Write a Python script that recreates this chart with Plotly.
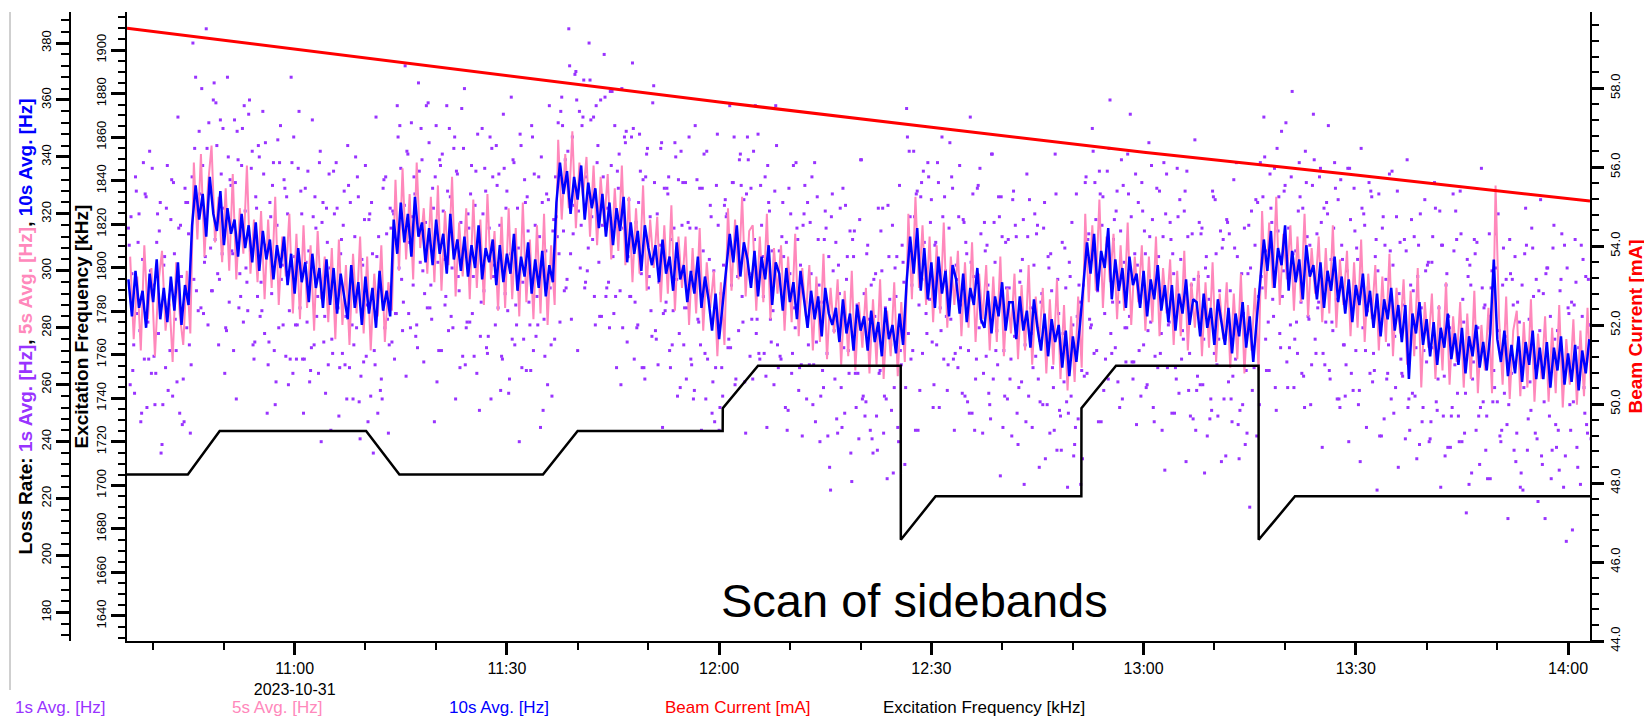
import pandas as pd
import plotly.graph_objects as go

# ---------------- data ----------------
DAY = "2023-10-31 "

# 10 s average loss rate [Hz], one value every 30 s starting 10:36:30
loss_10s = [
    297, 284, 300, 287, 293, 280, 299, 289, 304, 283, 294, 282, 298, 286, 303, 281, 295, 288,
    316, 330, 318, 327, 312, 333, 320, 314, 328,
    309, 322, 313, 318, 305, 320, 308, 316, 303, 317,
    300, 314, 304, 311, 297, 309, 301, 312, 295, 306,
    292, 308, 296, 303, 289, 306, 294, 301, 287, 304,
    288, 301, 285, 299, 291, 283, 302, 287, 296, 281,
    298, 285, 294, 280, 300, 286, 293, 284,
    318, 306, 324, 310, 320, 305, 326, 312, 317, 303,
    315, 302, 318, 306, 313, 299, 320, 304, 311, 300,
    312, 298, 309, 301, 316, 297, 308, 303, 311, 295,
    309, 296, 306, 299, 313, 293, 305, 298, 310, 292,
    304, 294, 307, 291, 302, 296,
    324, 338, 327, 335, 320, 333, 325, 337,
    318, 331, 322, 329, 315, 327,
    312, 324, 309, 322, 314, 326,
    303, 317, 306, 314, 300, 316, 308, 302,
    309, 296, 311, 299, 305, 293, 310, 297,
    302, 289, 300, 292, 305, 287, 298, 290,
    279, 292, 276, 288,
    300, 313, 303, 316, 298, 310, 304,
    294, 307, 291, 305, 297, 309, 288, 303,
    299, 286, 301, 289, 296, 283, 300, 290,
    280, 293, 283, 291, 277, 294, 285, 281,
    287, 275, 290, 278, 285, 272, 288, 279,
    284, 272, 286, 275, 282, 270, 287, 276, 281, 271, 285, 274,
    296, 312, 299, 315, 293, 308,
    290, 303, 287, 305, 292, 300, 284, 302,
    297, 285, 299, 282, 294, 288, 301, 283,
    280, 293, 278, 291, 284, 296, 279, 289,
    289, 276, 291, 279, 286, 273, 290, 280,
    272, 285, 270, 283, 275, 281,
    266, 279, 263, 277, 268, 281,
    296, 310, 299, 313, 293, 307, 301, 315,
    290, 304, 293, 301, 287, 305, 295, 299,
    287, 300, 284, 297, 290, 302, 286, 295,
    282, 295, 279, 292, 285, 297, 281, 290,
    289, 277, 292, 280, 287, 274, 290, 282,
    274, 287, 271, 285, 277, 289, 273, 284, 268, 283,
    297, 311, 300, 314, 294, 308, 302, 316,
    293, 307, 296, 304, 290, 309, 298, 302,
    290, 303, 287, 300, 293, 305, 289, 298,
    285, 297, 282, 295, 288, 299, 284, 293,
    280, 292, 277, 290, 283, 294, 279, 288,
    275, 288, 262, 285, 278, 289, 274, 283,
    270, 282, 267, 280, 273, 285, 269, 278,
    267, 280, 264, 277, 270, 281, 266, 275,
    265, 278, 304, 276, 268, 279, 263, 274,
    264, 277, 261, 275, 267, 279, 262, 273,
    262, 275, 259, 273, 265, 277, 260, 271,
    261, 274, 258, 272, 264, 276,
]

# 5 s average loss rate [Hz], one value every 30 s starting 10:36:45
loss_5s = [
    305, 276, 298, 272, 309, 283, 301, 270, 296, 307, 279, 292, 268, 303, 285, 274, 300, 278,
    338, 311, 341, 305, 330, 344, 310, 326, 303,
    329, 300, 334, 297, 322, 306, 337, 299, 318, 296,
    321, 290, 318, 294, 326, 288, 312, 298, 320, 285,
    313, 283, 316, 287, 309, 279, 314, 290, 305, 282,
    308, 276, 311, 281, 302, 274, 306, 285, 312, 278,
    305, 272, 299, 284, 309, 275, 296, 286,
    332, 300, 336, 304, 327, 297, 338, 308, 322, 299,
    326, 296, 330, 293, 321, 302, 333, 291, 317, 298,
    322, 290, 325, 294, 318, 288, 327, 297, 314, 286,
    319, 287, 322, 290, 315, 284, 324, 289, 311, 283,
    316, 285, 320, 281, 309, 288,
    346, 318, 341, 322, 349, 315, 338, 326,
    340, 312, 337, 309, 333, 316,
    334, 304, 329, 307, 337, 302,
    326, 296, 322, 299, 330, 293, 318, 301,
    319, 289, 316, 292, 323, 286, 312, 294,
    312, 281, 308, 285, 315, 279, 303, 287,
    300, 270, 296, 274,
    322, 293, 318, 297, 326, 291, 314,
    316, 286, 312, 289, 320, 283, 308, 292,
    309, 279, 305, 282, 313, 277, 301, 284,
    302, 272, 298, 275, 306, 269, 294, 278,
    297, 267, 293, 270, 300, 265, 289, 273,
    294, 264, 290, 267, 297, 262, 286, 270, 296, 263, 289, 268,
    320, 290, 326, 294, 316, 288,
    312, 282, 309, 285, 317, 280, 305, 288,
    307, 277, 303, 280, 310, 275, 299, 283,
    302, 272, 298, 275, 305, 270, 294, 278,
    299, 269, 295, 272, 302, 267, 291, 275,
    294, 264, 290, 267, 297, 262,
    288, 258, 284, 261, 291, 266,
    320, 289, 316, 293, 325, 287, 312, 296,
    313, 283, 309, 286, 317, 281, 305, 289,
    309, 279, 305, 282, 312, 277, 301, 285,
    304, 274, 300, 277, 307, 272, 296, 280,
    300, 270, 296, 273, 303, 268, 292, 276,
    296, 266, 292, 269, 299, 264, 288, 272, 294, 265,
    321, 290, 317, 294, 326, 288, 313, 297,
    316, 286, 312, 289, 320, 284, 308, 292,
    312, 282, 308, 285, 316, 280, 304, 288,
    307, 277, 303, 280, 311, 275, 299, 283,
    302, 272, 298, 275, 306, 270, 294, 278,
    297, 267, 293, 270, 301, 259, 289, 273,
    292, 262, 288, 265, 296, 260, 284, 268,
    289, 259, 285, 262, 293, 257, 281, 265,
    287, 257, 330, 283, 260, 291, 255, 279,
    286, 256, 282, 259, 290, 254, 278, 262,
    284, 254, 280, 257, 288, 252, 276, 260,
    283, 253, 279, 256, 287, 258,
]

# 1 s average loss rate [Hz], sampled every 15 s starting 10:36:30
loss_1s = [
    315, 260, 299, 274, 333, 285, 320, 247, 304, 269, 326, 282, 342, 264, 295, 253, 310, 278,
    324, 239, 302, 266, 337, 288, 318, 256, 306, 272, 354, 250, 298, 262, 329, 280, 313, 243,
    333, 297, 368, 319, 349, 287, 337, 303, 385, 281, 329, 293, 360, 311, 344, 274, 353, 306,
    322, 280, 368, 289, 330, 306, 353, 255, 339, 299, 337, 282, 321, 296, 355, 307, 342, 269, 326, 291,
    340, 296, 356, 278, 309, 267, 324, 292, 338, 253, 316, 280, 351, 302, 332, 270, 320, 286, 368, 264,
    305, 269, 336, 287, 320, 250, 329, 282, 307, 265, 353, 274, 315, 291, 338, 240, 324, 284, 322, 267,
    301, 276, 335, 287, 322, 249, 306, 271, 328, 284, 344, 266, 297, 255, 312, 280, 326, 241, 304, 268,
    337, 288, 318, 256, 306, 272, 354, 250, 298, 262, 329, 280, 313, 243, 322, 275,
    320, 285, 358, 301, 336, 279, 323, 263, 341, 310, 352, 295, 327, 281, 366, 303, 339, 268, 317, 287,
    345, 295, 329, 247, 351, 303, 339, 272, 321, 288, 358, 279, 326, 301, 343, 255, 334, 293, 317, 270,
    364, 280, 320, 282, 337, 298, 323, 264, 312, 277, 350, 293, 328, 271, 315, 255, 333, 302, 344, 287,
    316, 270, 355, 292, 328, 257, 306, 276, 338, 288, 322, 240, 344, 296, 332, 265, 314, 281, 351, 272,
    316, 291, 333, 245, 324, 283, 307, 260, 358, 274, 314, 276,
    319, 352, 282, 361, 314, 339, 297, 385, 306, 347, 323, 370, 272, 356, 316, 354,
    294, 333, 308, 367, 319, 354, 281, 338, 303, 360, 316, 376,
    291, 322, 280, 337, 305, 351, 266, 329, 293, 364, 315, 345,
    275, 325, 291, 373, 269, 317, 281, 348, 299, 332, 262, 341, 294, 319, 277, 365,
    279, 320, 296, 343, 245, 329, 289, 327, 272, 311, 286, 345, 297, 332, 259, 316,
    274, 331, 287, 347, 269, 300, 258, 315, 283, 329, 244, 307, 271, 342, 293, 323,
    250, 300, 266, 348, 244, 292, 256, 323,
    319, 273, 358, 295, 331, 260, 309, 279, 341, 291, 325, 243, 347, 299,
    329, 262, 311, 278, 348, 269, 316, 291, 333, 245, 324, 283, 307, 260, 358, 274,
    307, 269, 324, 285, 310, 251, 299, 264, 337, 280, 315, 258, 302, 242, 320, 289,
    324, 267, 299, 253, 338, 275, 311, 240, 289, 259, 321, 271, 305, 223, 327, 279,
    310, 243, 292, 259, 329, 250, 297, 272, 314, 226, 305, 264, 288, 241, 339, 255,
    292, 254, 309, 270, 295, 236, 284, 249, 322, 265, 300, 243, 287, 227, 305, 274,
    316, 259, 291, 245, 330, 267, 303, 232,
    357, 278, 319, 295, 342, 244, 328, 288, 326, 271, 310, 285,
    338, 290, 325, 252, 309, 274, 331, 287, 347, 269, 300, 258, 315, 283, 329, 244,
    302, 266, 337, 288, 318, 256, 306, 272, 354, 250, 298, 262, 329, 280, 313, 243,
    317, 270, 295, 253, 341, 262, 303, 279, 326, 228, 312, 272, 310, 255, 294, 269,
    325, 277, 312, 239, 296, 261, 318, 274, 334, 256, 287, 245, 302, 270, 316, 231,
    289, 253, 324, 275, 305, 243, 293, 259, 341, 237, 285, 249,
    310, 261, 294, 224, 303, 256, 281, 239, 327, 248, 289, 265,
    295, 331, 264, 313, 280, 350, 271, 318, 293, 335, 247, 326, 285, 309, 262, 360,
    271, 311, 273, 328, 289, 314, 255, 303, 268, 341, 284, 319, 262, 306, 246, 324,
    289, 331, 274, 306, 260, 345, 282, 318, 247, 296, 266, 328, 278, 312, 230, 334,
    281, 317, 250, 299, 266, 336, 257, 304, 279, 321, 233, 312, 271, 295, 248, 346,
    258, 298, 260, 315, 276, 301, 242, 290, 255, 328, 271, 306, 249, 293, 233, 311,
    276, 318, 261, 293, 247, 332, 269, 305, 234, 283, 253, 315, 265, 299, 217, 321, 273, 309, 242, 291,
    338, 294, 354, 276, 307, 265, 322, 290, 336, 251, 314, 278, 349, 300, 330, 268,
    315, 281, 363, 259, 307, 271, 338, 289, 322, 252, 331, 284, 309, 267, 355, 276,
    313, 289, 336, 238, 322, 282, 320, 265, 304, 279, 338, 290, 325, 252, 309, 274,
    256, 300, 240, 318, 287, 329, 272, 304, 258, 343, 280, 316, 245, 294, 264, 326,
    271, 305, 223, 327, 279, 315, 248, 297, 264, 334, 255, 302, 277, 319, 231, 310,
    264, 288, 241, 339, 255, 295, 257, 312, 273, 298, 239, 287, 252, 325, 268, 303,
    241, 303, 273, 322, 251, 287, 224, 309, 263, 295, 238, 280, 249, 327, 267, 311,
    249, 328, 240, 282, 257, 304, 225, 295, 262, 311, 244, 280, 232, 336, 254, 288,
    249, 284, 227, 300, 265, 313, 254, 279, 240, 295, 257, 297, 213, 311, 264, 288,
    305, 243, 273, 224, 295, 259, 322, 237, 283, 251, 308, 266, 297, 219, 279, 235,
    292, 213, 301, 259, 284, 237, 316, 246, 279, 230, 297, 261, 309, 205, 287, 253,
    289, 254, 311, 238, 273, 225, 284, 259, 298, 243, 281, 241,
]

# more 1 s average samples [Hz], every 30 s starting 10:36:37
loss_1s_more = [
    309, 265, 328, 279, 338, 252, 300, 270, 320, 236, 305, 258, 332, 283, 315, 246, 324, 274,
    380, 293, 327, 285, 343, 308, 366, 299, 334,
    264, 340, 307, 331, 287, 350, 301, 360, 274, 322,
    284, 334, 250, 319, 272, 346, 297, 329, 260, 338,
    281, 356, 269, 303, 261, 319, 284, 342, 275, 310,
    244, 320, 287, 311, 267, 330, 281, 340, 254, 302,
    270, 320, 236, 305, 258, 332, 283, 315,
    269, 347, 297, 372, 285, 319, 277, 335, 300, 358,
    287, 322, 261, 337, 304, 328, 284, 347, 298, 357,
    267, 315, 285, 335, 251, 320, 273, 347, 298, 330,
    258, 336, 286, 361, 274, 308, 266, 324, 289, 347,
    277, 312, 251, 327, 294, 318,
    312, 356, 293, 342, 283, 369, 321, 351,
    296, 380, 311, 358, 284, 333,
    294, 363, 285, 335, 260, 347,
    305, 347, 289, 324, 266, 333, 298, 359,
    276, 309, 285, 329, 266, 315, 256, 342,
    287, 317, 267, 351, 282, 329, 255, 304,
    261, 330, 252, 302,
    320, 273, 347, 298, 330, 261, 339,
    283, 358, 271, 305, 263, 321, 286, 344,
    270, 305, 244, 320, 287, 311, 267, 330,
    274, 333, 247, 295, 265, 315, 231, 300,
    248, 322, 273, 305, 236, 314, 264, 339,
    249, 283, 241, 299, 264, 322, 255, 290, 229, 305, 272, 296,
    347, 269, 319, 244, 331, 297,
    333, 275, 310, 252, 319, 284, 345, 269,
    297, 273, 317, 254, 303, 244, 330, 282,
    307, 257, 341, 272, 319, 245, 294, 262,
    328, 250, 300, 225, 312, 278, 320, 262,
    292, 234, 301, 266, 327, 251,
    278, 254, 298, 235, 284, 225,
    263, 311, 281, 331, 247, 316, 269, 343,
    289, 321, 252, 330, 280, 355, 268, 302,
    256, 314, 279, 337, 270, 305, 244, 320,
    282, 306, 262, 325, 276, 335, 249, 297,
    263, 313, 229, 298, 251, 325, 276, 308,
    235, 313, 263, 338, 251, 285, 243, 301, 266, 324,
    298, 340, 282, 317, 259, 326, 291, 352,
    273, 306, 282, 326, 263, 312, 253, 339,
    287, 317, 267, 351, 282, 329, 255, 304,
    267, 336, 258, 308, 233, 320, 286, 328,
    265, 300, 242, 309, 274, 335, 259, 292,
    263, 307, 244, 293, 234, 320, 272, 302,
    247, 331, 262, 309, 235, 284, 252, 321,
    240, 290, 215, 302, 268, 310, 252, 287,
    227, 294, 259, 320, 244, 277, 253, 297,
    233, 282, 223, 309, 261, 291, 241, 325,
    254, 301, 227, 276, 244, 313, 235, 285,
    209, 296, 262, 304, 246, 281,
]

# 1 s average samples close to the band [Hz], every 30 s starting 10:36:52
loss_1s_near = [
    319, 257, 310, 250, 327, 269, 336, 264, 314, 253, 322, 272, 331, 261, 316, 247, 324, 267,
    343, 286, 364, 305, 352, 293, 359, 297, 350,
    279, 332, 272, 349, 291, 358, 286, 336, 275, 344,
    286, 345, 275, 330, 261, 338, 281, 326, 269, 347,
    281, 328, 269, 335, 273, 326, 264, 317, 257, 334,
    271, 338, 266, 316, 255, 324, 274, 333, 263, 318,
    247, 324, 267, 312, 255, 333, 274, 321,
    285, 351, 289, 342, 280, 333, 273, 350, 292, 359,
    283, 333, 272, 341, 291, 350, 280, 335, 266, 343,
    282, 327, 270, 348, 289, 336, 277, 343, 281, 334,
    269, 322, 262, 339, 281, 348, 276, 326, 265, 334,
    281, 340, 270, 325, 256, 333,
    306, 351, 294, 372, 313, 360, 301, 367,
    300, 353, 291, 344, 284, 361,
    296, 363, 291, 341, 280, 349,
    291, 350, 280, 335, 266, 343, 286, 331,
    267, 345, 286, 333, 274, 340, 278, 331,
    262, 315, 255, 332, 274, 341, 269, 319,
    247, 316, 266, 325,
    276, 331, 262, 339, 282, 327, 270,
    342, 283, 330, 271, 337, 275, 328, 266,
    312, 252, 329, 271, 338, 266, 316, 255,
    317, 267, 326, 256, 311, 242, 319, 262,
    302, 245, 323, 264, 311, 252, 318, 256,
    306, 244, 297, 237, 314, 256, 323, 251, 301, 240, 309, 259,
    342, 272, 327, 258, 335, 278,
    317, 260, 338, 279, 326, 267, 333, 271,
    319, 257, 310, 250, 327, 269, 336, 264,
    309, 248, 317, 267, 326, 256, 311, 242,
    316, 259, 304, 247, 325, 266, 313, 254,
    315, 253, 306, 244, 297, 237,
    308, 250, 317, 245, 295, 234,
    333, 283, 342, 272, 327, 258, 335, 278,
    318, 261, 339, 280, 327, 268, 334, 272,
    321, 259, 312, 252, 329, 271, 338, 266,
    311, 250, 319, 269, 328, 258, 313, 244,
    317, 260, 305, 248, 326, 267, 314, 255,
    317, 255, 308, 246, 299, 239, 316, 258, 325, 253,
    326, 265, 334, 284, 343, 273, 328, 259,
    333, 276, 321, 264, 342, 283, 330, 271,
    333, 271, 324, 262, 315, 255, 332, 274,
    336, 264, 314, 253, 322, 272, 331, 261,
    311, 242, 319, 262, 307, 250, 328, 269,
    311, 252, 318, 256, 309, 247, 300, 240,
    312, 254, 321, 249, 299, 238, 307, 257,
    313, 243, 298, 229, 306, 249, 294, 237,
    313, 254, 301, 242, 308, 246, 299, 237,
    289, 229, 306, 248, 315, 243, 293, 232,
    299, 249, 308, 238, 293, 224, 301, 244,
    288, 231, 309, 250, 297, 238,
]

# Beam current [mA]
beam_time = ["10:36:18", "11:00:00", "11:30:00", "12:00:00", "12:30:00",
             "13:00:00", "13:30:00", "14:00:00", "14:03:06"]
beam_mA = [59.52, 58.99, 58.32, 57.65, 57.01, 56.38, 55.80, 55.21, 55.14]

# Excitation frequency [kHz]
exc_time = ["10:36:18", "10:44:54", "10:49:24", "11:10:06", "11:14:48", "11:35:06",
            "11:40:00", "12:00:30", "12:00:31", "12:05:30", "12:25:40", "12:25:41",
            "12:30:36", "12:51:12", "12:51:13", "12:56:06", "13:16:15", "13:16:16",
            "13:21:24", "14:03:06"]
exc_kHz = [1705, 1705, 1725, 1725, 1705, 1705,
           1725, 1725, 1735.5, 1755, 1755, 1675,
           1695, 1695, 1735.5, 1755, 1755, 1675,
           1695, 1695]

x_tick_times = ["11:00", "11:30", "12:00", "12:30", "13:00", "13:30", "14:00"]
x_tick_labels = ["11:00<br>2023-10-31", "11:30", "12:00", "12:30", "13:00", "13:30", "14:00"]

legend_labels = ["1s Avg. [Hz]", "5s Avg. [Hz]", "10s Avg. [Hz]",
                 "Beam Current [mA]", "Excitation Frequency [kHz]"]

# ---------------- styling ----------------
PURPLE = "#9933ff"
PINK = "#ff88bb"
BLUE = "#0000ff"
RED = "#ff0000"
BLACK = "#000000"
FONT = "Liberation Sans, Arial, sans-serif"

W, H = 1644, 717
L_PLOT, R_PLOT, T_PLOT, B_PLOT = 127, 1590, 12, 641


def fx(x):
    return x / W


def fy(y):
    return (B_PLOT - y) / (B_PLOT - T_PLOT)


t10 = pd.date_range(DAY + "10:36:30", periods=len(loss_10s), freq="30s")
t5 = pd.date_range(DAY + "10:36:45", periods=len(loss_5s), freq="30s")
t1 = pd.date_range(DAY + "10:36:30", periods=len(loss_1s), freq="15s")
t1m = pd.date_range(DAY + "10:36:37", periods=len(loss_1s_more), freq="30s")
t1n = pd.date_range(DAY + "10:36:52", periods=len(loss_1s_near), freq="30s")
t1_all = list(t1) + list(t1m) + list(t1n)
loss_1s_all = loss_1s + loss_1s_more + loss_1s_near

fig = go.Figure()
fig.add_trace(go.Scatter(x=t1_all, y=loss_1s_all, mode="markers", yaxis="y",
                         marker=dict(symbol="square", size=3, color=PURPLE, line=dict(width=0)),
                         name=legend_labels[0]))
fig.add_trace(go.Scatter(x=t5, y=loss_5s, mode="lines", yaxis="y",
                         line=dict(color=PINK, width=2), name=legend_labels[1]))
fig.add_trace(go.Scatter(x=t10, y=loss_10s, mode="lines", yaxis="y",
                         line=dict(color=BLUE, width=2.5), name=legend_labels[2]))
fig.add_trace(go.Scatter(x=[DAY + t for t in beam_time], y=beam_mA, mode="lines", yaxis="y3",
                         line=dict(color=RED, width=3), name=legend_labels[3]))
fig.add_trace(go.Scatter(x=[DAY + t for t in exc_time], y=exc_kHz, mode="lines", yaxis="y2",
                         line=dict(color=BLACK, width=2.5), name=legend_labels[4]))

axis_common = dict(showgrid=False, zeroline=False, showline=True, linecolor=BLACK,
                   linewidth=2, ticks="outside", tickcolor=BLACK, tickwidth=3)

fig.update_layout(
    width=W, height=H,
    margin=dict(l=0, r=0, t=T_PLOT, b=H - B_PLOT),
    paper_bgcolor="white", plot_bgcolor="white",
    showlegend=False,
    font=dict(family=FONT, size=13, color=BLACK),
    xaxis=dict(**axis_common, domain=[fx(L_PLOT), fx(R_PLOT)], type="date",
               range=[DAY + "10:36:18", DAY + "14:03:06"],
               tickmode="array", tickvals=[DAY + t for t in x_tick_times], ticktext=x_tick_labels,
               ticklen=12, tickfont=dict(size=16),
               minor=dict(ticks="outside", dtick=600000, tick0=DAY + "10:00",
                          ticklen=7, tickwidth=1.5, tickcolor=BLACK),
               anchor="y2"),
    yaxis=dict(**axis_common, domain=[0, 1], range=[170, 390.9], anchor="free",
               position=fx(70), side="left", dtick=20, tick0=0, ticklen=13,
               tickangle=-90, tickfont=dict(size=13),
               minor=dict(ticks="outside", dtick=4, tick0=0, ticklen=8, tickwidth=1.5,
                          tickcolor=BLACK)),
    yaxis2=dict(**axis_common, overlaying="y", anchor="x", side="left",
                range=[1628.5, 1917.5], dtick=20, tick0=0, ticklen=14,
                tickangle=-90, tickfont=dict(size=13),
                minor=dict(ticks="outside", dtick=5, tick0=0, ticklen=7, tickwidth=1.5,
                           tickcolor=BLACK)),
    yaxis3=dict(**axis_common, overlaying="y", anchor="x", side="right",
                range=[44, 59.93], dtick=2, tick0=0, tickformat=".1f", ticklen=12,
                tickangle=-90, tickfont=dict(size=13),
                minor=dict(ticks="outside", dtick=0.4, tick0=0, ticklen=7, tickwidth=1.5,
                           tickcolor=BLACK)),
)

# axis titles
loss_title = ("<b>Loss Rate: "
              f"<span style='color:{PURPLE}'>1s Avg. [Hz]</span>, "
              f"<span style='color:{PINK}'>5s Avg. [Hz]</span>, "
              f"<span style='color:{BLUE}'>10s Avg. [Hz]</span></b>")
fig.add_annotation(x=fx(25), y=0.5, xref="paper", yref="paper", text=loss_title,
                   textangle=-90, showarrow=False, xanchor="center", yanchor="middle",
                   font=dict(size=19, color=BLACK, family=FONT))
fig.add_annotation(x=fx(81), y=0.5, xref="paper", yref="paper",
                   text="<b>Excitation Frequency [kHz]</b>",
                   textangle=-90, showarrow=False, xanchor="center", yanchor="middle",
                   font=dict(size=19, color=BLACK, family=FONT))
fig.add_annotation(x=fx(1635), y=0.5, xref="paper", yref="paper",
                   text="<b>Beam Current [mA]</b>",
                   textangle=-90, showarrow=False, xanchor="center", yanchor="middle",
                   font=dict(size=19, color=RED, family=FONT))

# bottom legend (text only)
legend_colors = [PURPLE, PINK, BLUE, RED, BLACK]
legend_x = [13, 230, 447, 663, 881]
for lab, col, lx in zip(legend_labels, legend_colors, legend_x):
    fig.add_annotation(x=fx(lx), y=fy(707), xref="paper", yref="paper", text=lab,
                       showarrow=False, xanchor="left", yanchor="middle",
                       font=dict(size=17, color=col, family=FONT))

# annotation in the plot
fig.add_annotation(x=fx(915), y=fy(600), xref="paper", yref="paper",
                   text="Scan of sidebands", showarrow=False,
                   xanchor="center", yanchor="middle",
                   font=dict(size=47, color=BLACK, family=FONT))

# thin grey frame line at the far left
fig.add_shape(type="line", xref="paper", yref="paper",
              x0=fx(10), x1=fx(10), y0=fy(690), y1=fy(12),
              line=dict(color="#a0a0a0", width=1))

fig.write_html("out.html")
